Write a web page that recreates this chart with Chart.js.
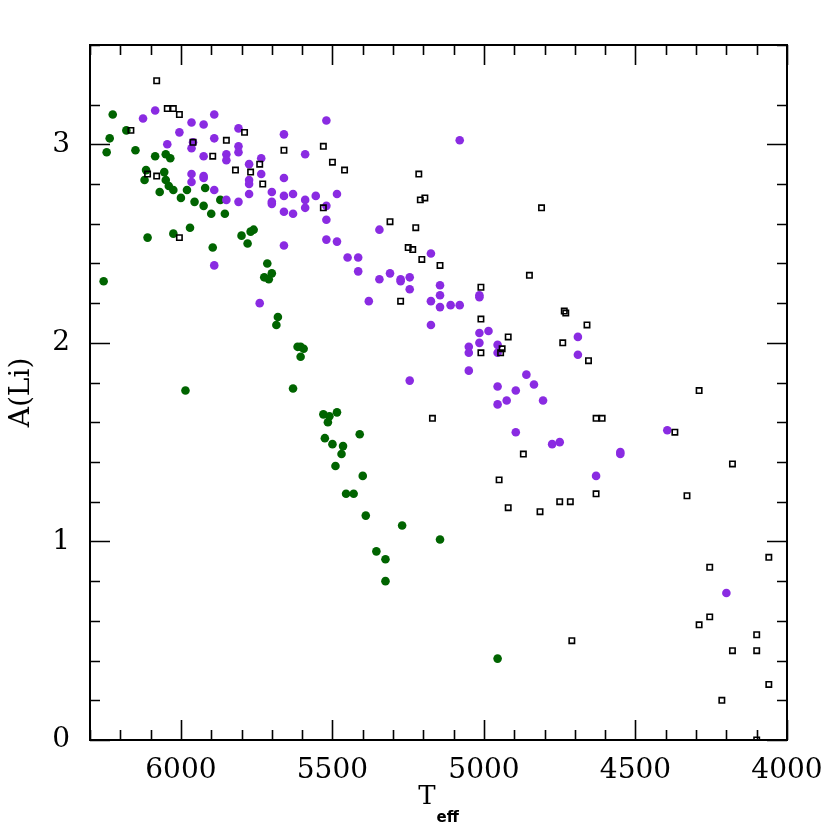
<!DOCTYPE html>
<html>
<head>
<meta charset="utf-8">
<script src="https://cdn.jsdelivr.net/npm/chart.js@4"></script>
<style>
  html, body { margin: 0; padding: 0; background: #fff; }
  #wrap { width: 830px; height: 830px; }
</style>
</head>
<body>
<div id="wrap"><canvas id="liChart" width="830" height="830"></canvas></div>
<script>
// ── data ──
const greenTeff = [6225, 6180, 6235, 6245, 6150, 6085, 6050, 6035, 6115, 6120, 6055, 6050, 6040, 6025, 6070,
  5980, 6000, 5920, 5955, 5870, 5925, 5900, 5855, 6110, 6025, 5970, 5895, 5800, 5780, 5770, 5760,
  5715, 5700, 5725, 5710, 6255, 5680, 5685, 5615, 5605, 5595, 5605, 5985, 5630, 5530, 5515, 5525,
  5510, 5485, 5500, 5465, 5470, 5410, 5490, 5400, 5455, 5430, 5390, 5270, 5145, 5355, 5325, 5325, 4955];
const greenALi = [3.15, 3.07, 3.03, 2.96, 2.97, 2.94, 2.95, 2.93, 2.87, 2.82, 2.86, 2.82, 2.79, 2.77, 2.76,
  2.77, 2.73, 2.78, 2.71, 2.72, 2.69, 2.65, 2.65, 2.53, 2.55, 2.58, 2.48, 2.54, 2.50, 2.56, 2.57,
  2.40, 2.35, 2.33, 2.32, 2.31, 2.13, 2.09, 1.98, 1.98, 1.97, 1.93, 1.76, 1.77, 1.64, 1.60, 1.52,
  1.63, 1.65, 1.49, 1.48, 1.44, 1.54, 1.38, 1.33, 1.24, 1.24, 1.13, 1.08, 1.01, 0.95, 0.91, 0.80, 0.41];

const purpleTeff = [6085, 6125, 5890, 5965, 5925, 6005, 5810, 5890, 6045, 5960, 5965, 5925, 5850, 5850, 5810,
  5810, 5735, 5775, 5660, 5590, 5520, 5965, 5965, 5925, 5925, 5890, 5850, 5810, 5775, 5775, 5735,
  5775, 5700, 5700, 5700, 5660, 5660, 5630, 5660, 5630, 5590, 5590, 5555, 5520, 5520, 5520, 5660,
  5890, 5080, 5485, 5485, 5345, 5450, 5415, 5415, 5175, 5345, 5310, 5275, 5275, 5245, 5245, 5380,
  5145, 5145, 5175, 5145, 5110, 5080, 5015, 5015, 5175, 5015, 4985, 5015, 5050, 5050, 4955, 4955,
  5050, 5245, 4860, 4835, 4955, 4895, 4805, 4925, 4955, 4895, 4775, 4750, 4690, 4690, 4550, 4550,
  4395, 4630, 4200, 5740];
const purpleALi = [3.17, 3.13, 3.15, 3.11, 3.10, 3.06, 3.08, 3.03, 3.00, 3.01, 2.98, 2.94, 2.95, 2.92, 2.99,
  2.96, 2.93, 2.90, 3.05, 2.95, 3.12, 2.85, 2.81, 2.84, 2.83, 2.77, 2.72, 2.71, 2.82, 2.80, 2.85,
  2.75, 2.76, 2.71, 2.70, 2.83, 2.74, 2.75, 2.66, 2.65, 2.72, 2.68, 2.74, 2.69, 2.62, 2.52, 2.49,
  2.39, 3.02, 2.75, 2.51, 2.57, 2.43, 2.43, 2.36, 2.45, 2.32, 2.35, 2.32, 2.31, 2.33, 2.27, 2.21,
  2.29, 2.24, 2.21, 2.18, 2.19, 2.19, 2.24, 2.23, 2.09, 2.05, 2.06, 2.00, 1.98, 1.95, 1.99, 1.95,
  1.86, 1.81, 1.84, 1.79, 1.78, 1.76, 1.71, 1.71, 1.69, 1.55, 1.49, 1.50, 2.03, 1.94, 1.45, 1.44,
  1.56, 1.33, 0.74, 2.20];

const openTeff = [6080, 6045, 6025, 6005, 6165, 5790, 5960, 5850, 5895, 6110, 6080, 5820, 5770, 5740, 5730,
  5660, 5530, 5530, 6005, 5500, 5460, 5215, 5210, 5195, 4810, 5310, 5225, 5250, 5235, 5205, 5145,
  4850, 5010, 5275, 5010, 4920, 4940, 4945, 5010, 5170, 4870, 4950, 4920, 4815, 4750, 4715, 4735,
  4730, 4660, 4740, 4655, 4290, 4630, 4610, 4370, 4180, 4630, 4330, 4060, 4255, 4255, 4290, 4710,
  4100, 4100, 4180, 4060, 4215, 4100];
const openALi = [3.32, 3.18, 3.18, 3.15, 3.07, 3.06, 3.01, 3.02, 2.94, 2.85, 2.84, 2.87, 2.86, 2.90, 2.80,
  2.97, 2.99, 2.68, 2.53, 2.91, 2.87, 2.85, 2.72, 2.73, 2.68, 2.61, 2.58, 2.48, 2.47, 2.42, 2.39,
  2.34, 2.28, 2.21, 2.12, 2.03, 1.97, 1.95, 1.95, 1.62, 1.44, 1.31, 1.17, 1.15, 1.20, 1.20, 2.16,
  2.15, 2.09, 2.00, 1.91, 1.76, 1.62, 1.62, 1.55, 1.39, 1.24, 1.23, 0.92, 0.87, 0.62, 0.58, 0.50,
  0.53, 0.45, 0.45, 0.28, 0.20, 0.00];

const xMajorTicks = [6000, 5500, 5000, 4500, 4000];
const yMajorTicks = [0, 1, 2, 3];

const toPoints = (xs, ys) => xs.map((x, i) => ({ x, y: ys[i] }));

// ── frame, inward ticks on all four sides, axis titles ──
const framePlugin = {
    id: 'framePlugin',
    afterDraw(chart) {
        const { ctx, chartArea: a, scales: { x, y } } = chart;
        ctx.save();
        ctx.strokeStyle = '#000';
        ctx.lineWidth = 1.6;
        ctx.beginPath();
        x.ticks.forEach(t => {
            const px = Math.round(x.getPixelForValue(t.value)) + 0.5;
            const len = xMajorTicks.includes(t.value) ? 20 : 10;
            ctx.moveTo(px, a.bottom); ctx.lineTo(px, a.bottom - len);
            ctx.moveTo(px, a.top); ctx.lineTo(px, a.top + len);
        });
        y.ticks.forEach(t => {
            const v = Math.round(t.value * 10) / 10;
            const py = Math.round(y.getPixelForValue(t.value)) + 0.5;
            const len = yMajorTicks.includes(v) ? 20 : 10;
            ctx.moveTo(a.left, py); ctx.lineTo(a.left + len, py);
            ctx.moveTo(a.right, py); ctx.lineTo(a.right - len, py);
        });
        ctx.stroke();
        ctx.lineWidth = 2;
        ctx.strokeRect(a.left, a.top, a.right - a.left, a.bottom - a.top);

        // y title
        ctx.fillStyle = '#000';
        ctx.save();
        ctx.translate(22, (a.top + a.bottom) / 2);
        ctx.rotate(-Math.PI / 2);
        ctx.font = '28px "DejaVu Serif"';
        ctx.textAlign = 'center';
        ctx.textBaseline = 'middle';
        ctx.fillText('A(Li)', 0, 0);
        ctx.restore();

        // x title: T with subscript eff
        const mainFont = '26px "DejaVu Serif"';
        const subFont = 'bold 15px "DejaVu Sans"';
        ctx.font = mainFont;
        const wT = ctx.measureText('T').width;
        ctx.font = subFont;
        const wS = ctx.measureText('eff').width;
        const x0 = (a.left + a.right) / 2 - (wT + 1 + wS) / 2;
        ctx.textAlign = 'left';
        ctx.textBaseline = 'alphabetic';
        ctx.font = mainFont;
        ctx.fillText('T', x0, 804);
        ctx.font = subFont;
        ctx.fillText('eff', x0 + wT + 1, 822);
        ctx.restore();
    }
};

const tickFont = { family: 'DejaVu Serif', size: 28 };

new Chart(document.getElementById('liChart'), {
    type: 'scatter',
    data: {
        datasets: [
            {
                label: 'open',
                data: toPoints(openTeff, openALi),
                pointStyle: 'rect',
                pointRadius: 3.8,
                borderColor: '#000',
                backgroundColor: 'rgba(0,0,0,0)',
                borderWidth: 1.6,
                order: 0
            },
            {
                label: 'purple',
                data: toPoints(purpleTeff, purpleALi),
                pointRadius: 4.3,
                borderWidth: 0,
                backgroundColor: '#8a2be2',
                order: 1
            },
            {
                label: 'green',
                data: toPoints(greenTeff, greenALi),
                pointRadius: 4.3,
                borderWidth: 0,
                backgroundColor: '#006400',
                order: 2
            }
        ]
    },
    options: {
        responsive: false,
        animation: false,
        events: [],
        layout: { padding: { left: 0, top: 45, right: 43, bottom: 0 } },
        plugins: { legend: { display: false }, tooltip: { enabled: false } },
        scales: {
            x: {
                type: 'linear',
                reverse: true,
                min: 4000,
                max: 6300,
                grid: { display: false, drawTicks: false },
                border: { display: false },
                ticks: {
                    stepSize: 100,
                    autoSkip: false,
                    maxRotation: 0,
                    padding: 14,
                    color: '#000',
                    font: tickFont,
                    callback: v => xMajorTicks.includes(v) ? `${v}` : ''
                },
                afterFit: s => { s.height = 90; s.paddingLeft = 0; s.paddingRight = 0; }
            },
            y: {
                type: 'linear',
                min: 0,
                max: 3.5,
                grid: { display: false, drawTicks: false },
                border: { display: false },
                ticks: {
                    stepSize: 0.2,
                    autoSkip: false,
                    padding: 20,
                    color: '#000',
                    font: tickFont,
                    callback: v => yMajorTicks.includes(Math.round(v * 10) / 10) ? `${Math.round(v)}` : ''
                },
                afterFit: s => { s.width = 90; s.paddingTop = 0; s.paddingBottom = 0; }
            }
        }
    },
    plugins: [framePlugin]
});
</script>
</body>
</html>
